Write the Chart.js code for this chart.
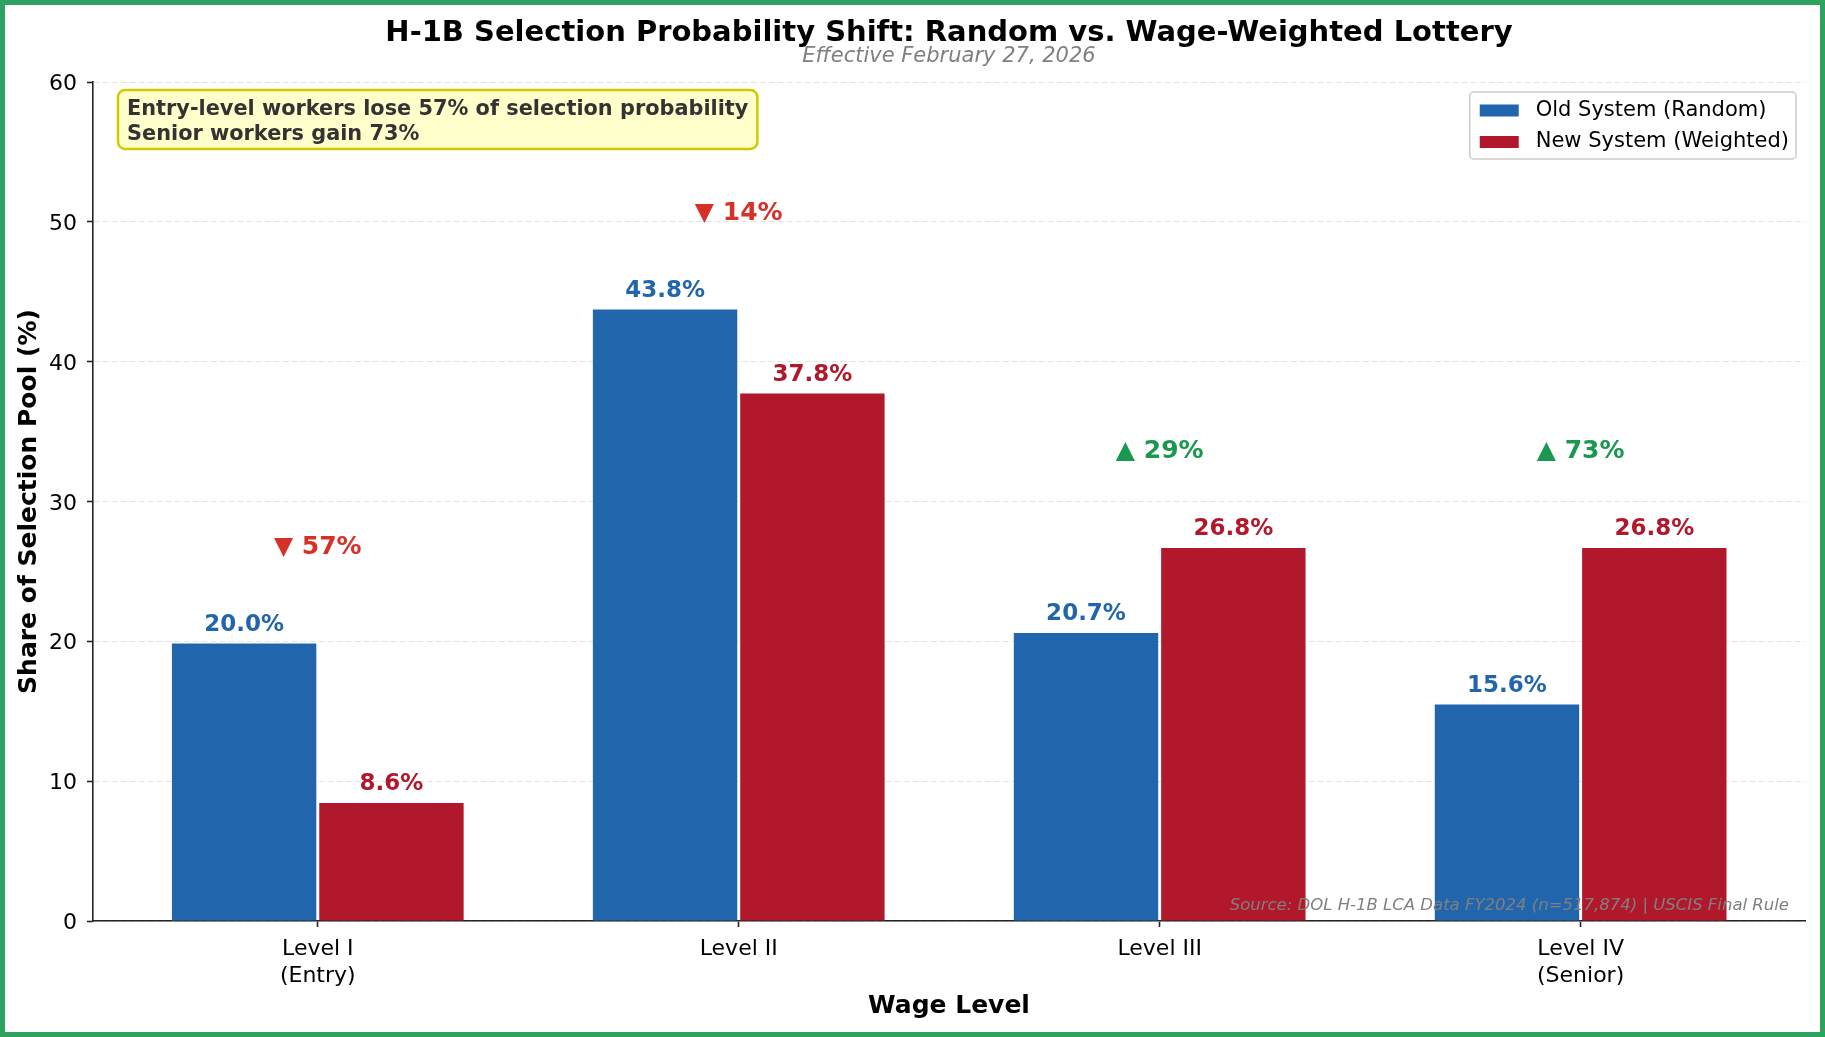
<!DOCTYPE html>
<html>
<head>
<meta charset="utf-8">
<title>H-1B Selection Probability Shift</title>
<script src="https://cdn.jsdelivr.net/npm/chart.js@4.4.1/dist/chart.umd.min.js"></script>
<style>
    html, body { margin: 0; padding: 0; background: #fff; }
    #wrap { width: 1825px; height: 1037px; position: relative; }
</style>
</head>
<body>
<div id="wrap"><canvas id="selectionChart"></canvas></div>
<script>
// Wage levels on the x axis
var levelLabels = [["Level I", "(Entry)"], ["Level II"], ["Level III"], ["Level IV", "(Senior)"]];

// Share of selection pool (%)
var oldSystem = [19.84, 43.73, 20.6, 15.48];
var newSystem = [8.44, 37.72, 26.68, 26.68];

// Value labels printed above the bars
var oldLabels = ["20.0%", "43.8%", "20.7%", "15.6%"];
var newLabels = ["8.6%", "37.8%", "26.8%", "26.8%"];

// Relative change per wage level
var changeLabels = ["▼ 57%", "▼ 14%", "▲ 29%", "▲ 73%"];
var changeUp = [false, false, true, true];

// Y axis ticks
var yTicks = [0, 10, 20, 30, 40, 50, 60];

var seriesNames = ["Old System (Random)", "New System (Weighted)"];
var noteLines = ["Entry-level workers lose 57% of selection probability", "Senior workers gain 73%"];

var FONT = "'DejaVu Sans', 'Liberation Sans', sans-serif";
var BLUE = "#2166ac";
var RED = "#b2182b";

Chart.defaults.font.family = FONT;
Chart.defaults.color = "#000";

function toPoints(values) {
    return values.map(function (v, i) { return {x: i, y: v}; });
}

function roundRect(ctx, x, y, w, h, r) {
    ctx.beginPath();
    ctx.moveTo(x + r, y);
    ctx.lineTo(x + w - r, y);
    ctx.arcTo(x + w, y, x + w, y + r, r);
    ctx.lineTo(x + w, y + h - r);
    ctx.arcTo(x + w, y + h, x + w - r, y + h, r);
    ctx.lineTo(x + r, y + h);
    ctx.arcTo(x, y + h, x, y + h - r, r);
    ctx.lineTo(x, y + r);
    ctx.arcTo(x, y, x + r, y, r);
    ctx.closePath();
}

// Draws the texts, note box, legend and frame around the chart
var decorPlugin = {
    id: "decor",
    afterDatasetsDraw: function (chart) {
        var ctx = chart.ctx;
        var xScale = chart.scales.x;
        var yScale = chart.scales.y;
        var labelSets = [oldLabels, newLabels];
        var colors = [BLUE, RED];

        ctx.save();
        // value labels above each bar
        ctx.font = "bold 23px " + FONT;
        ctx.textAlign = "center";
        ctx.textBaseline = "alphabetic";
        chart.data.datasets.forEach(function (ds, d) {
            var meta = chart.getDatasetMeta(d);
            ctx.fillStyle = colors[d];
            meta.data.forEach(function (bar, i) {
                ctx.fillText(labelSets[d][i], bar.x, bar.y - 13);
            });
        });

        // change markers above each group
        ctx.font = "bold 25px " + FONT;
        ctx.textBaseline = "middle";
        for (var i = 0; i < changeLabels.length; i++) {
            var top = Math.max(oldSystem[i], newSystem[i]) + 7;
            ctx.fillStyle = changeUp[i] ? "#1a9850" : "#d73027";
            ctx.fillText(changeLabels[i], xScale.getPixelForValue(i), yScale.getPixelForValue(top) + 1.5);
        }
        ctx.restore();
    },
    afterDraw: function (chart) {
        var ctx = chart.ctx;
        var ca = chart.chartArea;
        var midX = (ca.left + ca.right) / 2;

        ctx.save();
        // title + subtitle
        ctx.textAlign = "center";
        ctx.textBaseline = "middle";
        ctx.fillStyle = "#000";
        ctx.font = "bold 29px " + FONT;
        ctx.fillText("H-1B Selection Probability Shift: Random vs. Wage-Weighted Lottery", midX, 33.5);
        ctx.fillStyle = "#808080";
        ctx.font = "italic 21px " + FONT;
        ctx.fillText("Effective February 27, 2026", midX, 57);

        // note box, top left
        ctx.font = "bold 20.85px " + FONT;
        var noteW = Math.max.apply(null, noteLines.map(function (t) { return ctx.measureText(t).width; }));
        var bx = ca.left + 25, by = ca.top + 8;
        roundRect(ctx, bx, by, noteW + 18, 59, 7);
        ctx.fillStyle = "#ffffcc";
        ctx.fill();
        ctx.lineWidth = 2.5;
        ctx.strokeStyle = "#cccc00";
        ctx.stroke();
        ctx.fillStyle = "#333";
        ctx.textAlign = "left";
        ctx.fillText(noteLines[0], bx + 9, by + 20);
        ctx.fillText(noteLines[1], bx + 9, by + 45);

        // legend, top right
        ctx.font = "21px " + FONT;
        var legW = 66 + Math.max.apply(null, seriesNames.map(function (t) { return ctx.measureText(t).width; })) + 7;
        var lx = ca.right - 9 - legW, ly = ca.top + 10;
        roundRect(ctx, lx, ly, legW, 67, 4);
        ctx.fillStyle = "rgba(255,255,255,0.85)";
        ctx.fill();
        ctx.lineWidth = 1.5;
        ctx.strokeStyle = "#cccccc";
        ctx.stroke();
        chart.data.datasets.forEach(function (ds, d) {
            var cy = ly + 18.5 + d * 31.5;
            ctx.fillStyle = ds.backgroundColor;
            ctx.fillRect(lx + 10, cy - 6, 39, 12);
            ctx.fillStyle = "#000";
            ctx.fillText(ds.label, lx + 66, cy);
        });

        // source line
        ctx.font = "italic 16.5px " + FONT;
        ctx.fillStyle = "#808080";
        ctx.textAlign = "right";
        ctx.textBaseline = "alphabetic";
        ctx.fillText("Source: DOL H-1B LCA Data FY2024 (n=517,874) | USCIS Final Rule", ca.right - 16, ca.bottom - 11);

        // green frame
        ctx.lineWidth = 5;
        ctx.strokeStyle = "#2ea35f";
        ctx.strokeRect(2.5, 2.5, chart.width - 5, chart.height - 5);
        ctx.restore();
    }
};

var ctx = document.getElementById("selectionChart").getContext("2d");
var selectionChart = new Chart(ctx, {
    type: "bar",
    data: {
        datasets: [
            {
                label: seriesNames[0],
                data: toPoints(oldSystem),
                backgroundColor: BLUE,
                borderWidth: 0
            },
            {
                label: seriesNames[1],
                data: toPoints(newSystem),
                backgroundColor: RED,
                borderWidth: 0
            }
        ]
    },
    options: {
        responsive: true,
        maintainAspectRatio: false,
        animation: false,
        categoryPercentage: 0.7,
        barPercentage: 0.98,
        layout: {padding: {top: 82, right: 20, left: 0, bottom: 0}},
        plugins: {
            legend: {display: false},
            tooltip: {enabled: false}
        },
        scales: {
            x: {
                type: "linear",
                min: -0.534,
                max: 3.533,
                offset: false,
                grid: {drawOnChartArea: false, offset: false, tickLength: 6, tickColor: "#222", tickWidth: 1.6},
                border: {color: "#222", width: 1.6},
                ticks: {
                    stepSize: 1,
                    includeBounds: false,
                    autoSkip: false,
                    maxRotation: 0,
                    padding: 9.5,
                    color: "#000",
                    font: {size: 22},
                    callback: function (v) {
                        return Number.isInteger(v) && levelLabels[v] ? levelLabels[v] : "";
                    }
                },
                title: {display: true, text: "Wage Level", color: "#000", font: {size: 25, weight: "bold"}, padding: {top: 0, bottom: 16}},
                afterFit: function (s) { s.height = 116; }
            },
            y: {
                min: yTicks[0],
                max: yTicks[yTicks.length - 1],
                grid: {color: "#e3e3e3", lineWidth: 1, tickLength: 6, tickColor: "#222", tickWidth: 1.6},
                border: {color: "#222", width: 1.6, dash: [6, 3]},
                ticks: {stepSize: 10, padding: 10, labelOffset: 2.3, color: "#000", font: {size: 22}},
                title: {display: true, text: "Share of Selection Pool (%)", color: "#000", font: {size: 25, weight: "bold"}, padding: {top: 14, bottom: 0}},
                afterFit: function (s) { s.width = 93; }
            }
        }
    },
    plugins: [decorPlugin]
});
</script>
</body>
</html>
